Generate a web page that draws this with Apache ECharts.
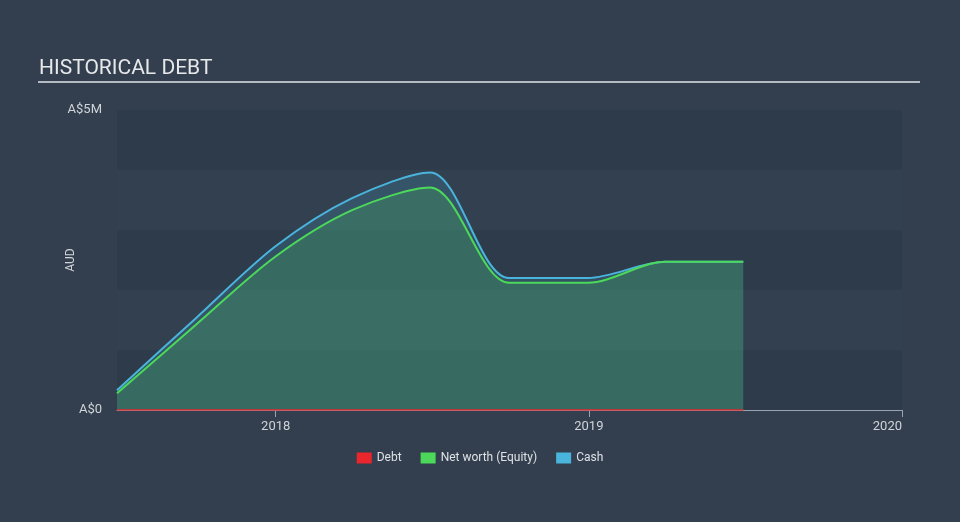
<!DOCTYPE html>
<html>
<head>
<meta charset="utf-8">
<script src="https://cdn.jsdelivr.net/npm/echarts@6/dist/echarts.min.js"></script>
<style>
html,body{margin:0;padding:0;background:#333f4f;}
#c{width:960px;height:522px;}
</style>
</head>
<body>
<div id="c"></div>
<script>
const dates = ['2017-06-30','2017-09-30','2017-12-31','2018-03-31','2018-06-30','2018-09-30','2018-12-31','2019-03-31','2019-06-30'];
const debt = [0,0,0,0,0,0,0,0,0];
const equity = [280000,1420000,2550000,3330000,3710000,2120000,2120000,2470000,2470000];
const cash = [330000,1530000,2720000,3530000,3960000,2200000,2200000,2470000,2470000];
const yTickLabels = {0:'A$0', 5000000:'A$5M'};

const pair = arr => dates.map((d,i)=>[d,arr[i]]);
const chart = echarts.init(document.getElementById('c'));
chart.setOption({
  backgroundColor:'#333f4f',
  animation:false,
  title:{text:'HISTORICAL DEBT',left:39,top:58,padding:0,textStyle:{color:'#e6e8ea',fontFamily:'Roboto',fontSize:21,fontWeight:'normal'}},
  graphic:[{type:'rect',shape:{x:38,y:81,width:882,height:2},style:{fill:'#b4bac2'}}],
  grid:{left:117,right:58,top:110,bottom:112},
  legend:{bottom:53,left:'center',icon:'rect',itemWidth:15,itemHeight:11,itemGap:19,
    textStyle:{color:'#dde1e5',fontFamily:'Roboto',fontSize:12},
    data:['Debt','Net worth (Equity)','Cash']},
  xAxis:{type:'time',min:'2017-06-30',max:'2020-01-01',
    minInterval:365*86400000,
    axisLine:{lineStyle:{color:'#9aa4b0'}},
    axisTick:{show:true,length:7,lineStyle:{color:'#9aa4b0'}},
    axisLabel:{color:'#d0d4d8',fontFamily:'Roboto',fontSize:13,margin:10,formatter:'{yyyy}',showMaxLabel:true,alignMaxLabel:'right'},
    splitLine:{show:false}},
  yAxis:{type:'value',min:0,max:5000000,interval:1000000,name:'AUD',nameLocation:'middle',nameGap:40,nameMoveOverlap:false,
    nameTextStyle:{color:'#d0d4d8',fontFamily:'Roboto',fontSize:12},
    axisLine:{show:false},axisTick:{show:false},
    axisLabel:{color:'#d0d4d8',fontFamily:'Roboto',fontSize:13,margin:15,formatter:v=>yTickLabels[v]||''},
    splitLine:{show:false},
    splitArea:{show:true,areaStyle:{color:['#2e3b4b','#334050']}}},
  series:[
    {name:'Debt',type:'line',data:pair(debt),symbol:'none',lineStyle:{color:'#e8262b',width:1.5},itemStyle:{color:'#e8262b'},z:3},
    {name:'Cash',type:'line',data:pair(cash),smooth:0.3,symbol:'none',lineStyle:{color:'#4ab5dc',width:2},itemStyle:{color:'#4ab5dc'},areaStyle:{color:'rgba(71,184,224,0.24)'},z:2},
    {name:'Net worth (Equity)',type:'line',data:pair(equity),smooth:0.3,symbol:'none',lineStyle:{color:'#4cd95a',width:2},itemStyle:{color:'#4cd95a'},areaStyle:{color:'rgba(82,221,91,0.27)'},z:2}
  ]
});
</script>
</body>
</html>
